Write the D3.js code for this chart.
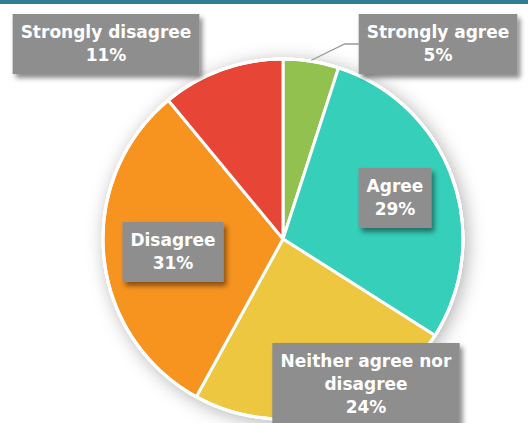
<!DOCTYPE html>
<html>
<head>
<meta charset="utf-8">
<script src="https://cdn.jsdelivr.net/npm/d3@7"></script>
<style>
  html, body { margin: 0; padding: 0; background: #fff; overflow: hidden; }
  text { font-family: "DejaVu Sans", sans-serif; font-weight: 700; }
</style>
</head>
<body>
<div id="chart"></div>
<script>
// Data
const categories = ["Strongly agree", "Agree", "Neither agree nor disagree", "Disagree", "Strongly disagree"];
const values = [5, 29, 24, 31, 11];
const labelLines = [
  ["Strongly agree", "5%"],
  ["Agree", "29%"],
  ["Neither agree nor", "disagree", "24%"],
  ["Disagree", "31%"],
  ["Strongly disagree", "11%"]
];

// Layout / style
const width = 528, height = 423;
const cx = 283, cy = 239, radius = 180;
const colors = ["#92c14f", "#36cfb9", "#ecc73f", "#f7931f", "#e74535"];
// label box centres (x, y of first text line)
const labelPos = [
  [438, 32], [395, 186], [366, 361], [173, 240], [106, 32]
];
const lineHeight = 23;
const padX = 8, padTop = 18, padBottom = 19;

const svg = d3.select("#chart").append("svg")
  .attr("width", width)
  .attr("height", height);

const defs = svg.append("defs");
const pieShadow = defs.append("filter").attr("id", "pieShadow")
  .attr("x", "-30%").attr("y", "-30%").attr("width", "160%").attr("height", "160%");
pieShadow.append("feDropShadow")
  .attr("dx", 3).attr("dy", 3).attr("stdDeviation", 9)
  .attr("flood-color", "#000").attr("flood-opacity", 0.3);

const boxShadow = defs.append("filter").attr("id", "boxShadow")
  .attr("x", "-20%").attr("y", "-20%").attr("width", "140%").attr("height", "150%");
boxShadow.append("feDropShadow")
  .attr("dx", 3).attr("dy", 4).attr("stdDeviation", 2.5)
  .attr("flood-color", "#000").attr("flood-opacity", 0.45);

// top bar
svg.append("rect")
  .attr("x", 0).attr("y", 0)
  .attr("width", width).attr("height", 4)
  .attr("fill", "#2f7e97");

const pie = d3.pie().sort(null).value(d => d);
const arcs = pie(values);
const arc = d3.arc().innerRadius(0).outerRadius(radius);

const g = svg.append("g").attr("transform", `translate(${cx},${cy})`);

// shadow + white rim
g.append("circle")
  .attr("r", radius + 1.5)
  .attr("fill", "#fff")
  .attr("filter", "url(#pieShadow)");

g.selectAll("path.slice")
  .data(arcs)
  .join("path")
  .attr("class", "slice")
  .attr("d", arc)
  .attr("fill", (d, i) => colors[i])
  .attr("stroke", "#fff")
  .attr("stroke-width", 3)
  .attr("stroke-linejoin", "round");

g.append("circle")
  .attr("r", radius)
  .attr("fill", "none")
  .attr("stroke", "#fff")
  .attr("stroke-width", 3);

// labels
const lab = svg.append("g").selectAll("g.label")
  .data(arcs)
  .join("g")
  .attr("class", "label");

const boxes = [];
lab.each(function (d, i) {
  const sel = d3.select(this);
  const [lx, ly] = labelPos[i];
  const lines = labelLines[i];
  const rect = sel.append("rect")
    .attr("fill", "#8e8e8e")
    .attr("filter", "url(#boxShadow)");
  const t = sel.append("text")
    .attr("text-anchor", "middle")
    .attr("fill", "#fff")
    .attr("font-size", 17);
  lines.forEach((s, k) => {
    t.append("tspan")
      .attr("x", lx)
      .attr("y", ly + k * lineHeight)
      .attr("dy", "0.36em")
      .text(s);
  });
  const bb = t.node().getBBox();
  const bx = lx - bb.width / 2 - padX;
  rect.attr("x", bx)
    .attr("y", ly - padTop)
    .attr("width", bb.width + 2 * padX)
    .attr("height", (lines.length - 1) * lineHeight + padTop + padBottom);
  boxes[i] = { x: bx, y: ly - padTop };
});

// leader line for "Strongly agree"
{
  const d = arcs[0];
  const mid = (d.startAngle + d.endAngle) / 2;
  const r0 = radius + 1;
  const x0 = cx + Math.sin(mid) * r0, y0 = cy - Math.cos(mid) * r0;
  const bx = boxes[0].x, by = boxes[0].y + 30;
  svg.insert("path", "g + g")
    .attr("d", `M${x0},${y0}L${bx - 14},${by}L${bx},${by}`)
    .attr("fill", "none")
    .attr("stroke", "#9a9a9a")
    .attr("stroke-width", 1.3);
}
</script>
</body>
</html>
